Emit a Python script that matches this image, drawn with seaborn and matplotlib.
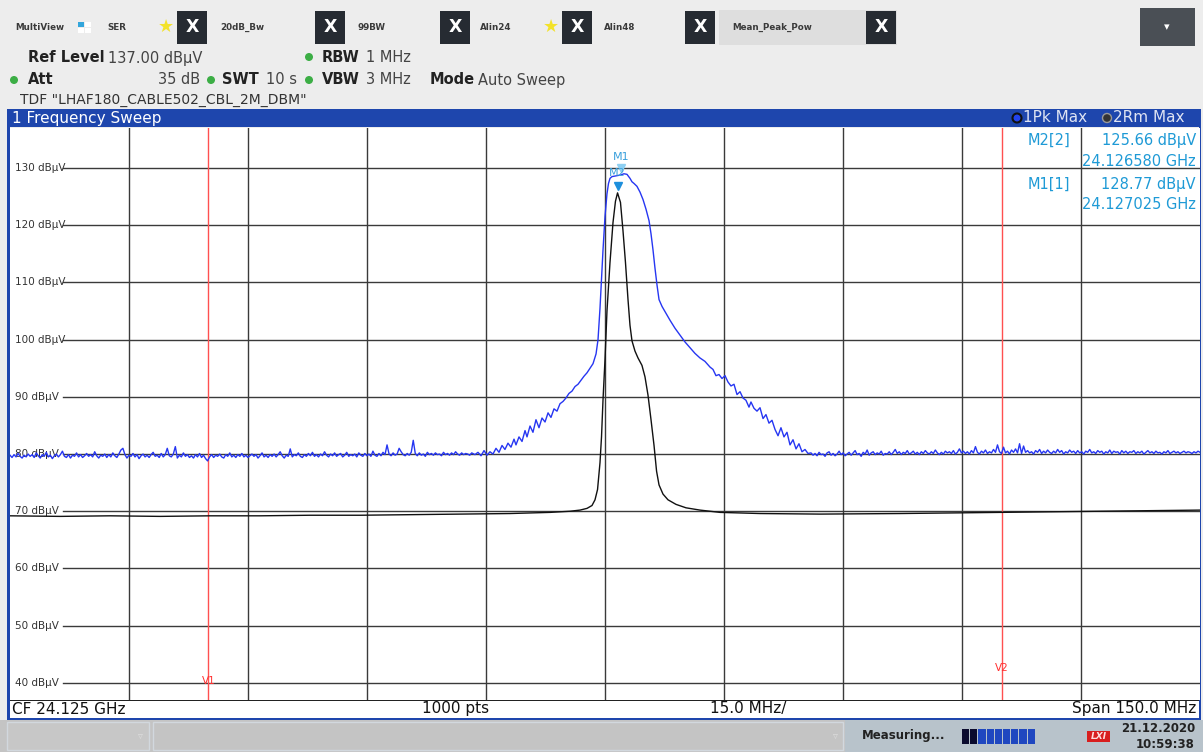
import numpy as np
import pandas as pd
import matplotlib
matplotlib.use("Agg")
import matplotlib.pyplot as plt
import matplotlib.patches as mpatches
import matplotlib.transforms as mtransforms
import seaborn as sns

# ------------------------------------------------------------------ data
start_mhz, stop_mhz = 24050.0, 24200.0          # CF 24.125 GHz, span 150 MHz
ref_level, bottom_level = 137.0, 37.0
grid_levels = [130, 120, 110, 100, 90, 80, 70, 60, 50, 40]
grid_labels = [f"{v} dBµV" for v in grid_levels]
grid_freqs = [24065, 24080, 24095, 24110, 24125, 24140, 24155, 24170, 24185]
vline_freqs = [24075.0, 24175.0]
vline_labels = ["V1", "V2"]
vline_label_levels = [40.3, 42.6]
marker_names = ["M1", "M2"]
marker_freqs = [24127.025, 24126.580]
marker_levels = [128.77, 125.66]

# trace 1 : Pk Max (blue)
blue_floor_left_span = (24050.0, 24108.2)
blue_floor_left = [
    79.8, 79.4, 79.9, 79.5, 80.1, 79.6, 79.3, 79.8, 79.5, 80.0,
    79.6, 79.9, 79.4, 80.2, 79.7, 79.3, 79.9, 79.6, 80.3, 79.5,
    79.8, 79.2, 79.7, 80.0, 79.5, 79.9, 80.5, 79.6, 79.4, 79.9,
    79.3, 79.8, 79.6, 80.2, 79.5, 79.9, 79.4, 79.7, 80.1, 79.6,
    79.9, 79.5, 80.4, 79.7, 79.3, 79.8, 79.6, 80.0, 79.4, 79.9,
    79.5, 80.2, 79.7, 79.4, 80.0, 80.7, 81.0, 79.9, 79.3, 79.8,
    79.6, 80.1, 79.5, 79.9, 79.2, 79.7, 80.0, 79.5, 79.8, 79.4,
    79.9, 80.3, 79.6, 79.8, 79.4, 80.1, 79.5, 79.9, 81.0, 79.7,
    79.5, 80.0, 81.3, 79.3, 79.8, 79.5, 80.2, 79.6, 79.9, 79.4,
    79.7, 79.3, 79.9, 79.5, 80.1, 79.4, 79.8, 79.2, 78.8, 79.5,
    79.9, 79.4, 79.8, 79.6, 80.0, 79.5, 79.3, 79.9, 79.6, 80.2,
    79.5, 79.8, 79.4, 79.9, 79.6, 80.1, 79.5, 79.8, 79.4, 79.7,
    80.0, 79.6, 79.9, 79.3, 79.7, 80.2, 79.5, 79.8, 79.4, 79.9,
    79.6, 80.0, 79.5, 79.9, 80.4, 79.7, 79.3, 79.8, 79.6, 80.9,
    79.5, 79.9, 79.7, 80.2, 79.6, 79.4, 79.9, 79.6, 80.1, 79.7,
    80.3, 79.6, 79.9, 79.5, 80.0, 79.7, 80.4, 79.8, 79.5, 80.0,
    79.7, 80.2, 79.6, 79.9, 80.1, 79.5, 79.8, 80.3, 79.6, 79.9,
    79.7, 80.0, 79.5, 80.2, 79.8, 79.6, 80.1, 79.7, 80.0, 79.6,
    80.5, 79.8, 79.6, 80.1, 79.7, 80.3, 79.9, 81.6, 80.0, 79.7,
    80.2, 79.8, 80.0, 81.0, 80.4, 79.9, 79.7, 80.1, 79.8, 80.3,
    82.4, 80.1, 79.7, 80.2, 79.8, 80.0, 79.6, 80.3, 79.9, 80.1,
    79.8, 80.2, 79.9, 80.0, 79.7, 80.3, 79.9, 80.1, 79.8, 80.2,
    79.9, 80.4, 80.0, 79.8, 80.2, 79.9, 80.1, 80.0, 79.8, 80.2,
]
blue_mid_freq = [
    24108.61, 24108.99, 24109.37, 24109.75, 24110.13, 24110.50, 24110.88, 24111.26,
    24111.64, 24112.02, 24112.39, 24112.77, 24113.15, 24113.53, 24113.78, 24114.16,
    24114.54, 24114.92, 24115.17, 24115.55, 24115.92, 24116.30, 24116.68, 24117.06,
    24117.44, 24117.82, 24118.19, 24118.57, 24118.95, 24119.33, 24119.71, 24120.08,
    24120.46, 24120.84, 24121.22, 24121.60, 24121.97, 24122.35, 24122.73, 24123.11,
    24123.49, 24123.87, 24124.12, 24124.37, 24124.56, 24124.75, 24125.00, 24125.25,
    24125.44, 24125.63, 24125.88, 24126.26, 24126.64, 24127.02, 24127.39, 24127.77,
    24128.15, 24128.40, 24128.66, 24129.03, 24129.41, 24129.79, 24130.17, 24130.55,
    24130.80, 24131.05, 24131.30, 24131.56, 24131.81, 24132.19, 24132.69, 24133.19,
    24133.82, 24134.45, 24135.08, 24135.71, 24136.34, 24136.97, 24137.60, 24138.24,
    24138.61, 24138.99, 24139.37, 24139.75, 24140.13, 24140.50, 24140.88, 24141.26,
    24141.64, 24142.02, 24142.39, 24142.77, 24143.15, 24143.40, 24143.78, 24144.16,
    24144.54, 24144.92, 24145.29, 24145.67, 24146.05, 24146.43, 24146.81, 24147.18,
    24147.56, 24147.94, 24148.32, 24148.70, 24149.08, 24149.45, 24149.83, 24150.21,
    24150.59,
]
blue_mid_level = [
    79.9, 80.3, 79.7, 80.6, 79.8, 80.4, 80.0, 81.0,
    80.3, 81.5, 80.8, 81.9, 81.2, 82.6, 81.6, 83.0,
    82.2, 84.1, 83.0, 84.9, 83.8, 86.0, 84.6, 86.3,
    85.6, 87.2, 86.4, 87.9, 87.5, 88.8, 89.2, 89.8,
    90.6, 91.0, 91.8, 92.2, 92.9, 93.6, 94.2, 95.0,
    95.8, 97.5, 100.0, 105.5, 110.5, 115.7, 121.5, 125.5,
    127.3, 128.2, 128.5, 128.6, 128.7, 128.8, 129.0, 128.9,
    128.2, 127.6, 127.3, 126.8, 125.8, 124.5, 122.8, 120.8,
    118.5, 115.7, 112.5, 109.5, 107.0, 105.8, 104.6, 103.4,
    102.0, 100.8, 99.6, 98.6, 97.6, 96.8, 96.2, 95.2,
    94.8, 93.7, 93.9, 93.2, 93.7, 92.6, 91.9, 92.2,
    90.4, 90.9, 89.8, 89.4, 88.2, 89.1, 88.0, 87.5,
    88.1, 86.2, 86.9, 85.4, 85.9, 84.3, 83.2, 84.6,
    83.0, 83.8, 81.6, 82.5, 80.9, 81.8, 80.4, 80.8,
    80.1,
]
blue_floor_right_span = (24150.97, 24200.0)
blue_floor_right = [
    80.2, 79.8, 80.1, 79.7, 80.3, 79.9, 80.0, 79.6, 80.2, 80.4,
    79.8, 80.1, 79.7, 80.0, 80.5, 79.9, 80.2, 79.7, 80.0, 80.3,
    79.8, 80.2, 80.6, 79.9, 80.1, 79.6, 80.3, 80.0, 80.7, 79.8,
    80.2, 80.4, 79.9, 80.2, 80.0, 80.5, 79.8, 80.1, 80.0, 80.4,
    79.9, 80.3, 80.8, 80.1, 80.4, 79.9, 80.3, 80.1, 80.6, 80.0,
    80.2, 80.5, 80.0, 80.3, 79.9, 80.4, 80.1, 80.6, 80.2, 80.0,
    80.4, 80.1, 80.7, 80.2, 79.9, 80.3, 80.0, 80.5, 80.2, 80.4,
    80.1, 80.6, 80.0, 80.3, 80.9, 80.2, 80.5, 80.1, 80.4, 80.0,
    80.6, 80.2, 81.3, 80.3, 80.0, 80.5, 80.2, 80.7, 80.1, 80.4,
    80.2, 80.8, 80.3, 81.6, 80.4, 80.1, 81.2, 80.2, 80.5, 80.0,
    80.7, 80.3, 80.9, 80.2, 81.8, 80.1, 81.4, 80.3, 80.6, 80.2,
    80.4, 80.0, 80.6, 80.3, 80.8, 80.1, 80.5, 80.2, 80.7, 80.3,
    80.1, 80.5, 80.2, 80.8, 80.3, 80.6, 80.0, 80.4, 80.2, 80.7,
    80.3, 80.5, 80.1, 80.6, 80.2, 80.4, 80.0, 80.5, 80.3, 80.8,
    80.2, 80.4, 80.1, 80.6, 80.3, 80.5, 80.0, 80.4, 80.2, 80.7,
    80.1, 80.5, 80.3, 80.4, 80.0, 80.6, 80.2, 80.5, 80.1, 80.4,
    80.3, 80.6, 80.1, 80.4, 80.2, 80.5, 80.0, 80.3, 80.6, 80.2,
    80.4, 80.1, 80.5, 80.2, 80.3, 80.0, 80.4, 80.2, 80.6, 80.1,
    80.3, 80.5, 80.2, 80.4, 80.1, 80.3, 80.5, 80.2, 80.4, 80.3,
    80.1, 80.4, 80.2, 80.5, 80.3,
]

# trace 2 : Rm Max (black)
black_freq = [
    24050.00, 24056.30, 24062.61, 24068.91, 24075.21, 24081.51, 24087.82, 24094.12,
    24100.42, 24106.72, 24113.03, 24118.07, 24120.59, 24121.85, 24122.73, 24123.36,
    24123.74, 24124.06, 24124.37, 24124.56, 24124.75, 24125.00, 24125.25, 24125.63,
    24126.01, 24126.32, 24126.58, 24126.95, 24127.27, 24127.58, 24127.90, 24128.15,
    24128.40, 24128.78, 24129.16, 24129.66, 24130.04, 24130.42, 24130.80, 24131.18,
    24131.50, 24131.81, 24132.31, 24132.94, 24133.95, 24135.21, 24136.97, 24139.50,
    24144.54, 24152.10, 24162.18, 24174.79, 24181.09, 24187.39, 24193.70, 24200.00,
]
black_level = [
    69.2, 69.1, 69.2, 69.1, 69.2, 69.2, 69.3, 69.3,
    69.4, 69.5, 69.6, 69.8, 70.0, 70.2, 70.5, 71.0,
    72.0, 73.8, 78.5, 83.0, 89.5, 96.5, 105.0, 113.5,
    120.5, 124.2, 125.66, 124.0, 119.0, 113.5, 107.0, 102.5,
    99.8, 98.0, 96.8, 95.5, 93.5, 90.3, 86.0, 81.5,
    77.0, 74.6, 73.0, 72.0, 71.2, 70.6, 70.2, 69.8,
    69.6, 69.5, 69.6, 69.8, 69.9, 70.0, 70.1, 70.2,
]

# ------------------------------------------------------------------ figure
W, H = 1203, 752
plt.rcParams["font.family"] = ["DejaVu Sans"]
fig = plt.figure(figsize=(W / 100, H / 100), dpi=100, facecolor="#ededed")

bg = fig.add_axes([0, 0, 1, 1])
bg.set_xlim(0, W)
bg.set_ylim(H, 0)
bg.axis("off")


def box(x0, y0, x1, y1, fc, ec="none", lw=0, z=1):
    bg.add_patch(mpatches.Rectangle((x0, y0), x1 - x0, y1 - y0, facecolor=fc,
                                    edgecolor=ec, linewidth=lw, zorder=z))


def txt(x, y, s, size=10.5, color="#333333", weight="normal", ha="left", va="center", **kw):
    bg.text(x, y, s, fontsize=size, color=color, fontweight=weight, ha=ha, va=va, zorder=5, **kw)


def dot(x, y, r=4, color="#3cae45"):
    bg.add_patch(mpatches.Circle((x, y), r, facecolor=color, edgecolor="none", zorder=4))


# tab row
box(719, 10, 897, 45, "#dedede")
for x0 in [177, 315, 440, 562, 685, 866]:
    box(x0, 11, x0 + 30, 44, "#262b32", z=2)
    txt(x0 + 15, 27.5, "X", size=12.5, color="white", weight="bold", ha="center")
for name, x in [("MultiView", 15), ("SER", 107), ("20dB_Bw", 220), ("99BW", 358),
                ("Alin24", 480), ("Alin48", 604), ("Mean_Peak_Pow", 732)]:
    txt(x, 27, name, size=6.3, color="#3a3a3a", weight="bold")
box(78, 22, 84, 27, "#33a6dc", z=2)
box(85, 22, 91, 27, "white", z=2)
box(78, 28, 84, 33, "white", z=2)
box(85, 28, 91, 33, "white", z=2)
for x in [166, 551]:
    txt(x, 27, "★", size=13, color="#f3e22a", ha="center")
box(1140, 8, 1195, 46, "#4a4f55")
txt(1167, 27, "▾", size=8, color="white", ha="center")

# settings rows
txt(28, 58, "Ref Level", weight="bold", color="#222222")
txt(108, 58, "137.00 dBµV", color="#444444")
dot(309, 57)
txt(322, 58, "RBW", weight="bold", color="#222222")
txt(366, 58, "1 MHz", color="#444444")
dot(14, 80)
txt(28, 80, "Att", weight="bold", color="#222222")
txt(200, 80, "35 dB", color="#444444", ha="right")
dot(211, 80)
txt(222, 80, "SWT", weight="bold", color="#222222")
txt(266, 80, "10 s", color="#444444")
dot(309, 80)
txt(322, 80, "VBW", weight="bold", color="#222222")
txt(366, 80, "3 MHz", color="#444444")
txt(430, 80, "Mode", weight="bold", color="#222222")
txt(478, 80, "Auto Sweep", color="#444444")
txt(20, 100, 'TDF "LHAF180_CABLE502_CBL_2M_DBM"', size=10, color="#333333")

# window title bar + frame
box(7, 109, 1201, 127, "#1e46ad")
txt(12, 118, "1 Frequency Sweep", size=11, color="white")
bg.add_patch(mpatches.Circle((1017, 118), 4.5, facecolor="#2244ee", edgecolor="#111111",
                             linewidth=1.5, zorder=4))
txt(1023, 118, "1Pk Max", size=11, color="#dfe4f3")
bg.add_patch(mpatches.Circle((1107, 118), 4.5, facecolor="#333333", edgecolor="#999999",
                             linewidth=1, zorder=4))
txt(1113, 118, "2Rm Max", size=11, color="#dfe4f3")
box(7, 127, 10, 720, "#1e46ad")
box(1199, 127, 1201, 720, "#1e46ad")
box(10, 700, 1199, 718, "white")
box(10, 699.5, 1199, 700.6, "#222222", z=3)
box(7, 717.5, 1201, 720, "#1e46ad")
txt(12, 709, "CF 24.125 GHz", size=11, color="#111111")
txt(422, 709, "1000 pts", size=11, color="#111111")
txt(710, 709, "15.0 MHz/", size=11, color="#111111")
txt(1196, 709, "Span 150.0 MHz", size=11, color="#111111", ha="right")

# status bar
box(0, 720, W, H, "#c4c4c4")
box(845, 720, W, H, "#b8c3cb")
box(7, 722, 149, 750, "#c7c7c7", ec="#d2d8de", lw=1)
box(153, 722, 843, 750, "#c4c4c4", ec="#d2d8de", lw=1)
txt(140, 736, "▿", size=7, color="#dddddd", ha="center")
txt(835, 736, "▿", size=7, color="#dddddd", ha="center")
txt(862, 736, "Measuring...", size=8.5, color="#222222", weight="bold")
for i in range(9):
    x0 = 962 + i * 8.2
    box(x0, 729, x0 + 7.2, 744, "#0b0b2e" if i < 2 else "#1f47c0", z=2)
box(1087, 731, 1110, 742, "#d81e1e")
txt(1098.5, 736.5, "LXI", size=6.5, color="#ffdddd", weight="bold", ha="center", style="italic")
txt(1195, 729, "21.12.2020", size=8.5, color="#222222", weight="bold", ha="right")
txt(1195, 744, "10:59:38", size=8.5, color="#222222", weight="bold", ha="right")

# ------------------------------------------------------------------ plot area
ax = fig.add_axes([10 / W, 1 - 700 / H, 1190 / W, 572 / H])
ax.set_facecolor("white")

for lvl, lab in zip(grid_levels, grid_labels):
    ax.axhline(lvl, xmin=53 / 1190, xmax=1, color="#3a3a3a", lw=1, zorder=1)
    ax.text(0.0042, lvl, lab, transform=ax.get_yaxis_transform(), fontsize=7.5,
            color="#333333", va="center", ha="left", zorder=2)
for f in grid_freqs:
    ax.axvline(f, color="#3a3a3a", lw=1, zorder=1)
for f, lab, lv in zip(vline_freqs, vline_labels, vline_label_levels):
    ax.axvline(f, color="#ff5050", lw=1, zorder=2)
    ax.text(f, lv, lab, color="#ff3030", fontsize=7.5, ha="center", va="center", zorder=2)

blue_df = pd.DataFrame({
    "freq": np.concatenate([np.linspace(*blue_floor_left_span, len(blue_floor_left)),
                            blue_mid_freq,
                            np.linspace(*blue_floor_right_span, len(blue_floor_right))]),
    "level": np.concatenate([blue_floor_left, blue_mid_level, blue_floor_right]),
})
black_df = pd.DataFrame({"freq": black_freq, "level": black_level})

sns.lineplot(data=black_df, x="freq", y="level", sort=False, estimator=None,
             color="#111111", lw=1.0, ax=ax, zorder=3, legend=False)
sns.lineplot(data=blue_df, x="freq", y="level", sort=False, estimator=None,
             color="#2636f2", lw=1.0, ax=ax, zorder=4, legend=False)

tri = mtransforms.offset_copy(ax.transData, fig=fig, x=0, y=5, units="points")
ax.plot([marker_freqs[0]], [marker_levels[0]], marker="v", ls="none", ms=6,
        color="#8fd0f2", transform=tri, zorder=5)
ax.plot([marker_freqs[1]], [marker_levels[1]], marker="v", ls="none", ms=6,
        color="#1d8fdc", transform=tri, zorder=5)
lab_off = [13.0, 14.5]
for name, f, lv, off in zip(marker_names, marker_freqs, marker_levels, lab_off):
    t = mtransforms.offset_copy(ax.transData, fig=fig, x=0, y=off, units="points")
    ax.text(f, lv, name, transform=t, fontsize=8, color="#3aa0dc",
            ha="center", va="center", zorder=6)

# marker table
mcol = "#1e9ad6"
rows = [(0.979, "M2[2]", f"{marker_levels[1]:.2f} dBµV"),
        (0.9406, None, f"{marker_freqs[1] / 1000:.6f} GHz"),
        (0.902, "M1[1]", f"{marker_levels[0]:.2f} dBµV"),
        (0.8654, None, f"{marker_freqs[0] / 1000:.6f} GHz")]
for yy, left, right in rows:
    if left:
        ax.text(1060 / 1190, yy, left, transform=ax.transAxes, fontsize=10.5,
                color=mcol, ha="right", va="center", zorder=6)
    ax.text(0.9966, yy, right, transform=ax.transAxes, fontsize=10.5,
            color=mcol, ha="right", va="center", zorder=6)

ax.set_xlim(start_mhz, stop_mhz)
ax.set_ylim(bottom_level, ref_level)
ax.set_xticks([])
ax.set_yticks([])
ax.set_xlabel("")
ax.set_ylabel("")
for s in ax.spines.values():
    s.set_visible(False)

fig.savefig("out.png", dpi=100, facecolor=fig.get_facecolor())
